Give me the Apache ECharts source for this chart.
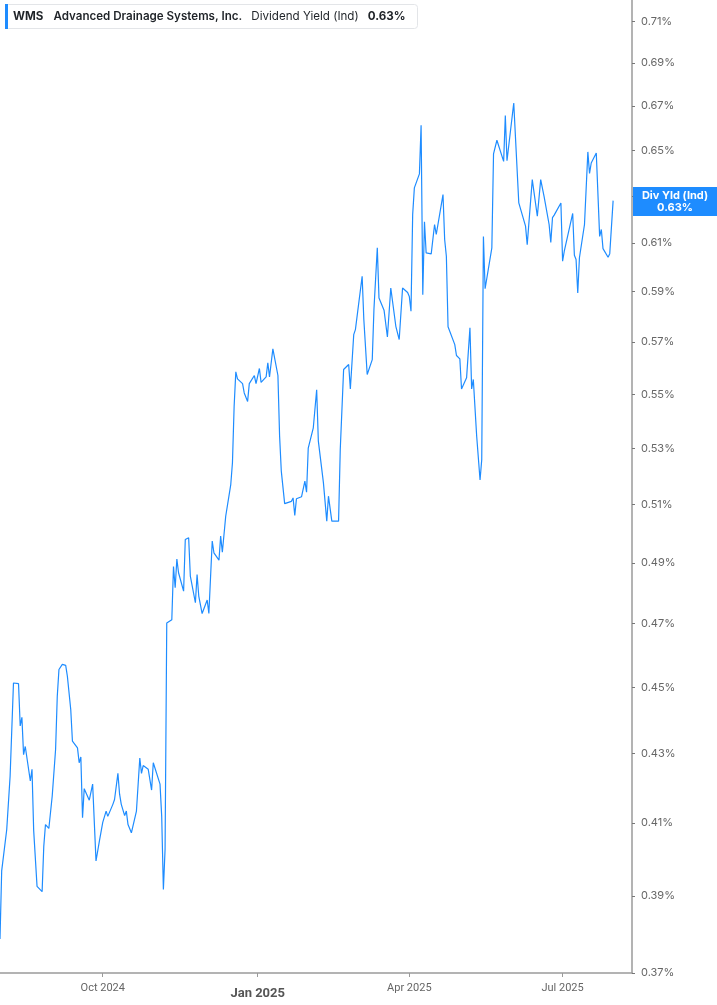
<!DOCTYPE html>
<html lang="en">
<head>
<meta charset="UTF-8">
<title>WMS Dividend Yield (Ind)</title>
<script src="https://cdn.jsdelivr.net/npm/echarts@6.0.0/dist/echarts.min.js"></script>
<style>
	html, body { margin:0; padding:0; background:#fff; }
	#chart { width:717px; height:1005px; }
</style>
</head>
<body>
<div id="chart"></div>
<script>
// trading dates and dividend yield (%)
var dates = [
	'2024-08-01','2024-08-02','2024-08-05','2024-08-07','2024-08-09','2024-08-12','2024-08-13','2024-08-14','2024-08-15','2024-08-16',
	'2024-08-19','2024-08-20','2024-08-21','2024-08-22','2024-08-23','2024-08-26','2024-08-27','2024-08-28','2024-08-29','2024-08-30',
	'2024-09-01','2024-09-03','2024-09-04','2024-09-05','2024-09-07','2024-09-09','2024-09-10','2024-09-12','2024-09-13','2024-09-16',
	'2024-09-17','2024-09-18','2024-09-19','2024-09-20','2024-09-23','2024-09-25','2024-09-27','2024-09-29','2024-10-01','2024-10-02',
	'2024-10-03','2024-10-04','2024-10-07','2024-10-08','2024-10-09','2024-10-10','2024-10-11','2024-10-12','2024-10-14','2024-10-15',
	'2024-10-16','2024-10-18','2024-10-21','2024-10-23','2024-10-24','2024-10-25','2024-10-28','2024-10-30','2024-10-31','2024-11-01',
	'2024-11-04','2024-11-05','2024-11-06','2024-11-07','2024-11-08','2024-11-11','2024-11-12','2024-11-13','2024-11-14','2024-11-15',
	'2024-11-18','2024-11-19','2024-11-21','2024-11-22','2024-11-25','2024-11-26','2024-11-27','2024-11-29','2024-12-02','2024-12-03',
	'2024-12-05','2024-12-06','2024-12-09','2024-12-10','2024-12-11','2024-12-13','2024-12-16','2024-12-17','2024-12-18','2024-12-19',
	'2024-12-20','2024-12-23','2024-12-24','2024-12-26','2024-12-27','2024-12-30','2024-12-31','2025-01-02','2025-01-03','2025-01-06',
	'2025-01-07','2025-01-08','2025-01-10','2025-01-13','2025-01-14','2025-01-15','2025-01-17','2025-01-21','2025-01-22','2025-01-23',
	'2025-01-24','2025-01-27','2025-01-28','2025-01-29','2025-01-30','2025-01-31','2025-02-03','2025-02-05','2025-02-06','2025-02-09',
	'2025-02-11','2025-02-12','2025-02-14','2025-02-18','2025-02-19','2025-02-21','2025-02-24','2025-02-25','2025-02-27','2025-02-28',
	'2025-03-04','2025-03-05','2025-03-07','2025-03-10','2025-03-11','2025-03-12','2025-03-13','2025-03-14','2025-03-17','2025-03-18',
	'2025-03-19','2025-03-21','2025-03-24','2025-03-25','2025-03-26','2025-03-28','2025-03-31','2025-04-01','2025-04-02','2025-04-03',
	'2025-04-04','2025-04-07','2025-04-08','2025-04-09','2025-04-10','2025-04-11','2025-04-14','2025-04-16','2025-04-17','2025-04-21',
	'2025-04-22','2025-04-23','2025-04-24','2025-04-28','2025-04-29','2025-05-01','2025-05-02','2025-05-05','2025-05-07','2025-05-08',
	'2025-05-09','2025-05-11','2025-05-13','2025-05-14','2025-05-15','2025-05-16','2025-05-20','2025-05-21','2025-05-22','2025-05-23',
	'2025-05-27','2025-05-28','2025-05-29','2025-06-02','2025-06-05','2025-06-06','2025-06-09','2025-06-10','2025-06-13','2025-06-16',
	'2025-06-18','2025-06-20','2025-06-23','2025-06-24','2025-06-25','2025-06-26','2025-06-27','2025-06-30','2025-07-01','2025-07-02',
	'2025-07-03','2025-07-07','2025-07-08','2025-07-09','2025-07-10','2025-07-11','2025-07-14','2025-07-16','2025-07-17','2025-07-18',
	'2025-07-21','2025-07-23','2025-07-24','2025-07-25','2025-07-28','2025-07-29','2025-07-31'
];
var yields = [
	0.3787,0.3968,0.4082,0.4234,0.4513,0.4511,0.4382,0.4408,0.4297,0.4321,
	0.4220,0.4254,0.4079,0.4077,0.3926,0.3912,0.4036,0.4096,0.4101,0.4085,
	0.4177,0.4312,0.4472,0.4555,0.4571,0.4568,0.4534,0.4432,0.4337,0.4317,
	0.4273,0.4290,0.4115,0.4198,0.4165,0.4211,0.3995,0.4050,0.4102,0.4102,
	0.4134,0.4119,0.4153,0.4167,0.4169,0.4242,0.4182,0.4153,0.4121,0.4134,
	0.4096,0.4073,0.4134,0.4287,0.4242,0.4265,0.4254,0.4194,0.4273,0.4278,
	0.4211,0.4119,0.3918,0.4027,0.4702,0.4713,0.4888,0.4817,0.4913,0.4867,
	0.4806,0.4979,0.4985,0.4856,0.4768,0.4861,0.4790,0.4733,0.4777,0.4733,
	0.4974,0.4934,0.4909,0.4991,0.4936,0.5059,0.5170,0.5248,0.5455,0.5585,
	0.5558,0.5540,0.5505,0.5473,0.5540,0.5571,0.5540,0.5598,0.5545,0.5566,
	0.5620,0.5566,0.5674,0.5571,0.5344,0.5218,0.5103,0.5111,0.5123,0.5062,
	0.5120,0.5127,0.5131,0.5182,0.5143,0.5301,0.5375,0.5517,0.5326,0.5177,
	0.5042,0.5129,0.5042,0.5042,0.5295,0.5594,0.5613,0.5520,0.5729,0.5749,
	0.5963,0.5789,0.5575,0.5632,0.5829,0.5835,0.6080,0.5875,0.5826,0.5822,
	0.5720,0.5915,0.5762,0.5756,0.5710,0.5915,0.5897,0.5881,0.5822,0.6221,
	0.6335,0.6396,0.6613,0.5888,0.6190,0.6059,0.6055,0.6178,0.6136,0.6306,
	0.6114,0.6045,0.5760,0.5690,0.5648,0.5635,0.5520,0.5562,0.5756,0.5520,
	0.5556,0.5344,0.5186,0.5259,0.6127,0.5912,0.6080,0.6484,0.6488,0.6545,
	0.6451,0.6657,0.6454,0.6714,0.6270,0.6266,0.6171,0.6093,0.6371,0.6213,
	0.6371,0.6298,0.6178,0.6103,0.6207,0.6218,0.6213,0.6270,0.6025,0.6066,
	0.6066,0.6225,0.6049,0.6032,0.5895,0.6039,0.6178,0.6493,0.6398,0.6444,
	0.6488,0.6128,0.6157,0.6077,0.6041,0.6056,0.6280
];
var yTicks = [0.37,0.39,0.41,0.43,0.45,0.47,0.49,0.51,0.53,0.55,0.57,0.59,0.61,0.63,0.65,0.67,0.69,0.71];
var xTicks = ['2024-10-01','2025-01-01','2025-04-01','2025-07-01'];
var monthNames = ['Jan','Feb','Mar','Apr','May','Jun','Jul','Aug','Sep','Oct','Nov','Dec'];

var lineColor = '#1e8cff';
var lastYield = yields[yields.length - 1];

function toTime(s) {
	var p = s.split('-');
	return new Date(+p[0], +p[1] - 1, +p[2]).getTime();
}

// log scale: the axis works on ln(yield)
var seriesData = dates.map(function (d, i) {
	return [toTime(d), Math.log(yields[i])];
});

var chart = echarts.init(document.getElementById('chart'), null, { renderer: 'canvas' });

var option = {
	animation: false,
	title: {
		left: 5,
		top: 4,
		padding: [0, 12, 0, 0],
		backgroundColor: '#fff',
		borderColor: '#e3e5e8',
		borderWidth: 1,
		borderRadius: 3,
		text: '{bar|}{a|WMS}{b|Advanced Drainage Systems, Inc.}{c|Dividend Yield (Ind)}{d|' + lastYield.toFixed(2) + '%}',
		textStyle: {
			rich: {
				bar: { width: 3, height: 25, backgroundColor: lineColor },
				a: { fontFamily: 'Inter', fontSize: 11.6, fontWeight: 'bold', color: '#1f2328', padding: [0, 0, 0, 5], lineHeight: 25 },
				b: { fontFamily: 'Inter', fontSize: 11.6, fontWeight: 600, color: '#1f2328', padding: [0, 0, 0, 10], lineHeight: 25 },
				c: { fontFamily: 'Inter', fontSize: 11.6, fontWeight: 'normal', color: '#1f2328', padding: [0, 0, 0, 9], lineHeight: 25 },
				d: { fontFamily: 'Inter', fontSize: 11.6, fontWeight: 'bold', color: '#1f2328', padding: [0, 0, 0, 9], lineHeight: 25 }
			}
		}
	},
	grid: {
		left: 0,
		right: 85,
		top: 0,
		bottom: 32,
		containLabel: false
	},
	xAxis: {
		type: 'value',
		min: toTime('2024-08-01'),
		max: toTime('2025-08-11') + 5 * 3600 * 1000,
		axisLine: { show: true, lineStyle: { color: '#9a9a9a', width: 1.5 } },
		axisTick: {
			show: true,
			customValues: xTicks.map(toTime),
			length: 4,
			lineStyle: { color: '#9a9a9a' }
		},
		axisLabel: {
			customValues: xTicks.map(toTime),
			margin: 10,
			color: '#666',
			fontFamily: 'Roboto',
			fontSize: 11,
			formatter: function (v) {
				var d = new Date(v);
				var s = monthNames[d.getMonth()] + ' ' + d.getFullYear();
				return d.getMonth() === 0 ? '{y|' + s + '}' : s;
			},
			rich: {
				y: { fontFamily: 'Roboto', fontSize: 13, fontWeight: 'bold', color: '#555', padding: [4, 0, 0, 0] }
			}
		},
		splitLine: { show: false }
	},
	yAxis: {
		type: 'value',
		position: 'right',
		min: Math.log(0.37),
		max: Math.log(0.7205),
		axisLine: { show: true, lineStyle: { color: '#9a9a9a', width: 1.5 } },
		axisTick: {
			show: true,
			customValues: yTicks.map(Math.log),
			length: 3,
			lineStyle: { color: '#777' }
		},
		axisLabel: {
			customValues: yTicks.map(Math.log),
			margin: 9,
			color: '#666',
			fontFamily: 'Inter',
			fontSize: 11,
			formatter: function (v) {
				return Math.exp(v).toFixed(2) + '%';
			}
		},
		splitLine: { show: false }
	},
	series: [
		{
			name: 'Div Yld (Ind)',
			type: 'line',
			data: seriesData,
			showSymbol: false,
			lineStyle: { color: lineColor, width: 1.2 },
			itemStyle: { color: lineColor },
			markLine: {
				silent: true,
				symbol: 'none',
				z: 10,
				lineStyle: { color: 'rgba(0,0,0,0)', width: 1, type: 'solid' },
				data: [{ yAxis: Math.log(lastYield) }],
				label: {
					show: true,
					position: 'end',
					distance: 1,
					offset: [0, -6],
					backgroundColor: lineColor,
					padding: [2, 4, 2, 4],
					formatter: '{t|Div Yld (Ind)}\n{t|' + lastYield.toFixed(2) + '%}',
					rich: {
						t: { width: 76, align: 'center', color: '#fff', fontFamily: 'Inter', fontSize: 11, fontWeight: 'bold', lineHeight: 12.5 }
					}
				}
			}
		}
	]
};

chart.setOption(option);
</script>
</body>
</html>
